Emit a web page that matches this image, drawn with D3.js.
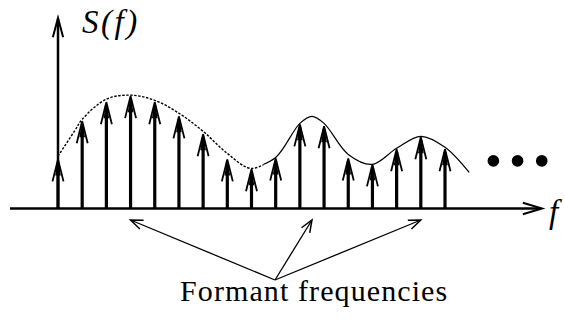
<!DOCTYPE html>
<html>
<head>
<meta charset="utf-8">
<script src="https://cdn.jsdelivr.net/npm/d3@7"></script>
<style>
  html, body { margin: 0; padding: 0; background: #fff; }
  svg { display: block; }
  .serif { font-family: "Liberation Serif", "Times New Roman", Times, "DejaVu Serif", "Noto Serif", serif; }
</style>
</head>
<body>
<svg id="chart" width="565" height="331"></svg>
<script>
// Harmonic indices and their spectral amplitudes
const harmonics = [1, 2, 3, 4, 5, 6, 7, 8, 9, 10, 11, 12, 13, 14, 15, 16, 17];
const amplitudes = [2.63, 4.63, 5.63, 5.95, 5.63, 4.89, 3.95, 2.63, 2.11, 2.68, 4.47, 4.37, 2.68, 2.37, 3.16, 3.79, 3.16];

// Spectral envelope sampled along the frequency axis
const envelopeF = [1, 1.7, 2, 3, 4, 5, 6, 7, 8, 9, 10, 11, 11.5, 12, 13, 14, 15, 16, 17, 18];
const envelopeA = [2.75, 4.1, 4.68, 5.74, 5.95, 5.68, 5.0, 4.05, 2.89, 2.1, 2.68, 4.47, 4.84, 4.47, 2.84, 2.32, 3.16, 3.79, 3.21, 1.89];

// Formant peaks pointed to by the annotation
const formants = [4, 11.5, 16];

// Continuation dots after the last harmonic
const ellipsisF = [19, 20, 21];
const ellipsisA = 2.5;

const axisLabelY = "S(f)";
const axisLabelX = "f";
const caption = "Formant frequencies";

const svg = d3.select("#chart");

const x = d3.scaleLinear().domain([1, 17]).range([58, 445]);
const y = d3.scaleLinear().domain([0, 10]).range([208.5, 18]);

const ink = "#000";

// Open V arrowhead at (tx, ty) pointing along angle ang
function vHead(g, tx, ty, ang, len, spread, width) {
  const a1 = ang + Math.PI - spread, a2 = ang + Math.PI + spread;
  g.append("path")
    .attr("d", `M${tx + len * Math.cos(a1)},${ty + len * Math.sin(a1)} L${tx},${ty} L${tx + len * Math.cos(a2)},${ty + len * Math.sin(a2)}`)
    .attr("fill", "none").attr("stroke", ink).attr("stroke-width", width)
    .attr("stroke-linejoin", "miter");
}

// Axes
const axes = svg.append("g");
const x0 = x.range()[0];
axes.append("line").attr("x1", 10).attr("x2", 541).attr("y1", y(0)).attr("y2", y(0))
  .attr("stroke", ink).attr("stroke-width", 2.5);
vHead(axes, 542, y(0), 0, 20, 0.29, 2);
axes.append("line").attr("x1", x0).attr("x2", x0).attr("y1", y(0)).attr("y2", 19)
  .attr("stroke", ink).attr("stroke-width", 2.5);
vHead(axes, x0, 18, -Math.PI / 2, 20, 0.26, 2);

axes.append("text").attr("class", "serif").attr("x", 82).attr("y", 33)
  .attr("font-style", "italic").attr("font-size", 33)
  .attr("letter-spacing", 2.5)
  .text(axisLabelY);
axes.append("text").attr("class", "serif").attr("x", 549).attr("y", 223)
  .attr("font-style", "italic").attr("font-size", 33)
  .text(axisLabelX);

// Spectral envelope: dotted over the first formant, solid afterwards
const defs = svg.append("defs");
const split = 9.5;
defs.append("clipPath").attr("id", "leftClip").append("rect")
  .attr("x", 0).attr("y", 0).attr("width", x(split)).attr("height", 331);
defs.append("clipPath").attr("id", "rightClip").append("rect")
  .attr("x", x(split)).attr("y", 0).attr("width", 565).attr("height", 331);

const env = envelopeF.map((f, i) => [f, envelopeA[i]]);
const line = d3.line().x(d => x(d[0])).y(d => y(d[1])).curve(d3.curveCatmullRom.alpha(0.5));
svg.append("path")
  .attr("d", line(env.filter(d => d[0] <= 10)))
  .attr("fill", "none").attr("stroke", ink).attr("stroke-width", 1.4)
  .attr("stroke-dasharray", "2.5,1.5")
  .attr("clip-path", "url(#leftClip)");
svg.append("path")
  .attr("d", line(env.filter(d => d[0] >= 9)))
  .attr("fill", "none").attr("stroke", ink).attr("stroke-width", 1.2)
  .attr("clip-path", "url(#rightClip)");

// Harmonic stems with arrowheads
const stems = svg.append("g").selectAll("g").data(harmonics).join("g");
stems.append("line")
  .attr("x1", d => x(d)).attr("x2", d => x(d))
  .attr("y1", y(0)).attr("y2", (d, i) => y(amplitudes[i]) + 4)
  .attr("stroke", ink).attr("stroke-width", 3.2);
stems.append("path")
  .attr("d", (d, i) => {
    const tx = x(d), ty = y(amplitudes[i]);
    return `M${tx},${ty} L${tx - 2.8},${ty + 17} L${tx + 2.8},${ty + 17} Z`;
  })
  .attr("fill", ink);
stems.append("path")
  .attr("d", (d, i) => {
    const tx = x(d), ty = y(amplitudes[i]);
    return `M${tx - 5.5},${ty + 23} L${tx},${ty + 1} L${tx + 5.5},${ty + 23}`;
  })
  .attr("fill", "none").attr("stroke", ink).attr("stroke-width", 1.8);

// Ellipsis dots
svg.append("g").selectAll("circle").data(ellipsisF).join("circle")
  .attr("cx", d => x(d)).attr("cy", y(ellipsisA)).attr("r", 5.8).attr("fill", ink);

// Formant annotation arrows
const ann = svg.append("g");
const hub = [275, 280];
formants.forEach(f => {
  const tx = x(f), ty = 220;
  ann.append("line").attr("x1", hub[0]).attr("y1", hub[1]).attr("x2", tx).attr("y2", ty)
    .attr("stroke", ink).attr("stroke-width", 1.3);
  vHead(ann, tx, ty, Math.atan2(ty - hub[1], tx - hub[0]), 13, 0.38, 1.5);
});

ann.append("text").attr("class", "serif").attr("x", 180).attr("y", 301)
  .attr("font-size", 30)
  .attr("letter-spacing", 1.1)
  .text(caption);
</script>
</body>
</html>
